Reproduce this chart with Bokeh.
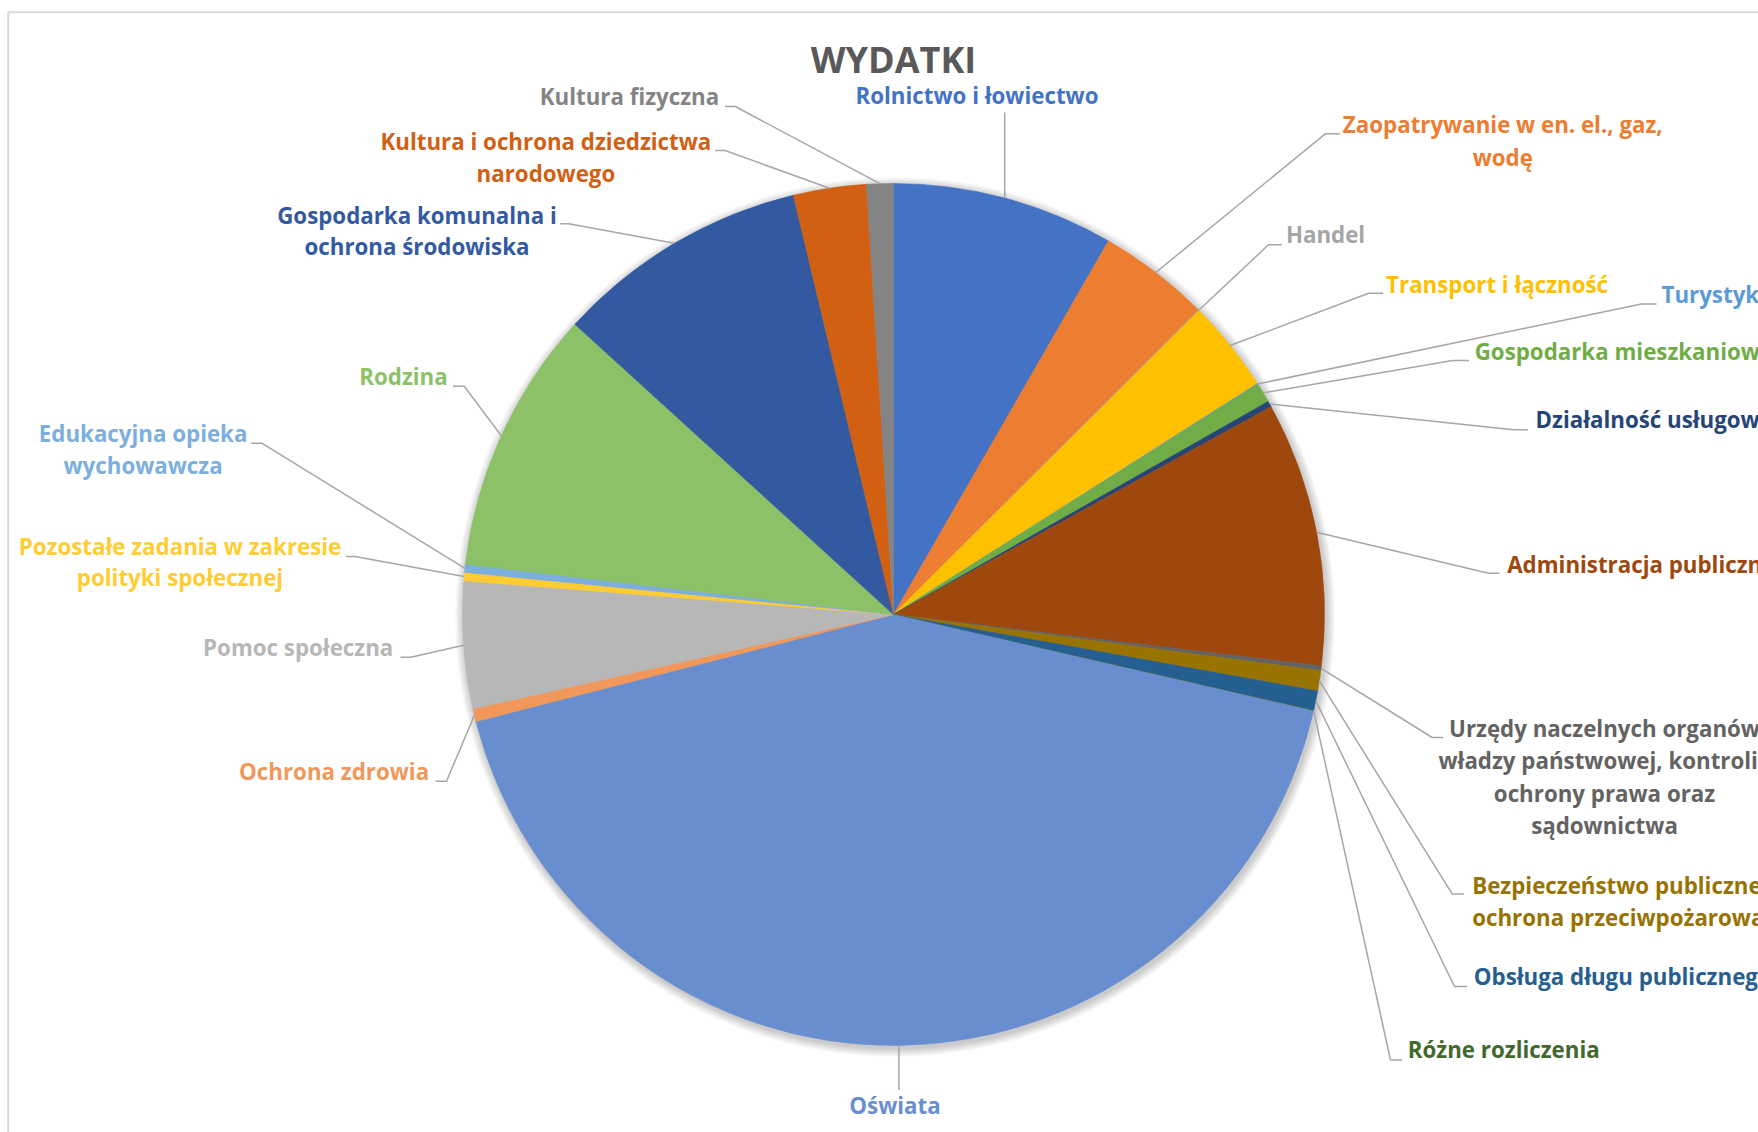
import numpy as np
from bokeh.plotting import figure
from bokeh.models import Range1d, ColumnDataSource
from bokeh.core.properties import value
from bokeh.embed import file_html
from bokeh.resources import INLINE

# ---------------- data ----------------
title_text = "WYDATKI"

categories = [
    "Rolnictwo i łowiectwo",
    "Zaopatrywanie w en. el., gaz,\nwodę",
    "Handel",
    "Transport i łączność",
    "Turystyka",
    "Gospodarka mieszkaniowa",
    "Działalność usługowa",
    "Administracja publiczna",
    "Urzędy naczelnych organów\nwładzy państwowej, kontroli i\nochrony prawa oraz\nsądownictwa",
    "Bezpieczeństwo publiczne i\nochrona przeciwpożarowa",
    "Obsługa długu publicznego",
    "Różne rozliczenia",
    "Oświata",
    "Ochrona zdrowia",
    "Pomoc społeczna",
    "Pozostałe zadania w zakresie\npolityki społecznej",
    "Edukacyjna opieka\nwychowawcza",
    "Rodzina",
    "Gospodarka komunalna i\nochrona środowiska",
    "Kultura i ochrona dziedzictwa\nnarodowego",
    "Kultura fizyczna",
]

# share of total expenditure, %
shares = [8.31, 4.20, 0.03, 3.46, 0.03, 0.74, 0.22, 9.91, 0.18, 0.76, 0.73,
          0.02, 42.41, 0.48, 4.76, 0.31, 0.30, 9.90, 9.51, 2.73, 1.00]

colors = ["#4472C4", "#ED7D31", "#A5A5A5", "#FFC000", "#5B9BD5", "#70AD47",
          "#264478", "#9E480E", "#636363", "#997300", "#255E91", "#43682B",
          "#698ED0", "#F1975A", "#B7B7B7", "#FFCD33", "#7CAFDD", "#8CC168",
          "#335AA1", "#D26012", "#848484"]

# ---------------- layout (page pixel coordinates) ----------------
W, H = 1758, 1132
OX, OY = 0.0, 0.0
def fx(X):
    return X - OX
def fy(Y):
    return (H + OY) - Y

CX, CY, R = 893.0, 614.0, 431.0
FONT = value("Open Sans")
FS = "22.3px"
TEXT_DY = -2.0   # small vertical correction for the label baseline

# per category: text anchor x, first-line y, align, line spacing,
#               leader elbow x, elbow y, stub end x
label_layout = [
    (976.5, 96.5, "center", 32, None, 112.0, None),
    (1502.3, 126.0, "center", 33, 1324.8, 133.3, 1339.3),
    (1285.4, 236.0, "left", 32, 1268.0, 244.3, 1281.4),
    (1385.6, 286.0, "left", 32, 1368.2, 292.7, 1382.7),
    (1661.0, 296.0, "left", 32, 1641.0, 303.5, 1656.0),
    (1474.2, 352.7, "left", 32, 1452.0, 360.0, 1468.4),
    (1535.0, 420.7, "left", 32, 1513.0, 429.3, 1527.5),
    (1506.7, 565.8, "left", 32, 1488.0, 572.7, 1499.0),
    (1604.0, 729.6, "center", 32.5, 1431.7, 737.0, 1442.7),
    (1471.7, 886.5, "left", 32.5, 1451.7, 893.4, 1463.3),
    (1473.3, 978.4, "left", 32, 1454.0, 986.0, 1466.7),
    (1407.3, 1051.0, "left", 32, 1390.0, 1059.5, 1401.7),
    (894.5, 1107.0, "center", 32, None, 1089.5, None),
    (428.6, 772.7, "right", 32, 446.0, 780.7, 435.0),
    (392.8, 649.3, "right", 32, 410.4, 656.7, 400.0),
    (179.5, 548.3, "center", 31, 354.3, 556.0, 345.5),
    (142.6, 435.0, "center", 31.7, 261.3, 442.7, 250.8),
    (447.2, 377.7, "right", 32, 463.7, 385.7, 452.5),
    (416.5, 216.7, "center", 31.6, 568.3, 223.3, 559.5),
    (545.4, 142.7, "center", 32.3, 724.5, 150.0, 714.7),
    (718.7, 97.7, "right", 32, 734.8, 106.0, 724.5),
]

# ---------------- figure ----------------
p = figure(width=W, height=H, x_range=Range1d(0, W), y_range=Range1d(0, H),
           output_backend="svg", toolbar_location=None, min_border=0,
           x_axis_location=None, y_axis_location=None)
p.grid.visible = False
p.outline_line_color = None
p.background_fill_color = "white"
p.border_fill_color = "white"

# chart area border (left + top)
p.line(x=[fx(7.7), fx(7.7), W + 10], y=[-10, fy(11.8), fy(11.8)],
       line_color="#D9D9D9", line_width=2)

# soft shadow around pie
for i in range(1, 10):
    p.circle(x=[fx(CX + 1.5)], y=[fy(CY + 2.5)], radius=R + i,
             fill_color="black", fill_alpha=0.022, line_color=None)

frac = np.array(shares, dtype=float) / np.sum(shares)
cum = np.concatenate([[0.0], np.cumsum(frac)])
th0 = cum[:-1] * 2 * np.pi
th1 = cum[1:] * 2 * np.pi
mid = (th0 + th1) / 2

src = ColumnDataSource(dict(
    start=np.pi / 2 - th0, end=np.pi / 2 - th1, color=colors,
    name=[c.replace("\n", " ") for c in categories], share=shares))
p.wedge(x=fx(CX), y=fy(CY), radius=R, start_angle="start", end_angle="end",
        direction="clock", fill_color="color", line_color="color",
        line_width=0.6, source=src)

# leader lines
xs, ys = [], []
for k, lay in enumerate(label_layout):
    ax, ay, al, sp, ex, ey, sx = lay
    rx = CX + R * np.sin(mid[k])
    ry = CY - R * np.cos(mid[k])
    if ex is None:
        xs.append([fx(rx), fx(rx)])
        ys.append([fy(ry), fy(ey)])
    else:
        xs.append([fx(rx), fx(ex), fx(sx)])
        ys.append([fy(ry), fy(ey), fy(ey)])
p.multi_line(xs=xs, ys=ys, line_color="#A6A6A6", line_width=1.5)

# labels
for align in ("left", "center", "right"):
    tx, ty, tt, tc = [], [], [], []
    for k, lay in enumerate(label_layout):
        ax, ay, al, sp, ex, ey, sx = lay
        if al != align:
            continue
        for j, line in enumerate(categories[k].split("\n")):
            tx.append(fx(ax))
            ty.append(fy(ay + j * sp + TEXT_DY))
            tt.append(line)
            tc.append(colors[k])
    if tt:
        p.text(x=tx, y=ty, text=tt, text_color=tc, text_font=FONT,
               text_font_style="bold", text_font_size=FS,
               text_align=align, text_baseline="middle")

# title
p.text(x=[fx(893.0)], y=[fy(59.0)], text=[title_text], text_color="#595959",
       text_font=FONT, text_font_style="bold", text_font_size="36px",
       text_align="center", text_baseline="middle")

open("out.html", "w").write(file_html(p, INLINE))
